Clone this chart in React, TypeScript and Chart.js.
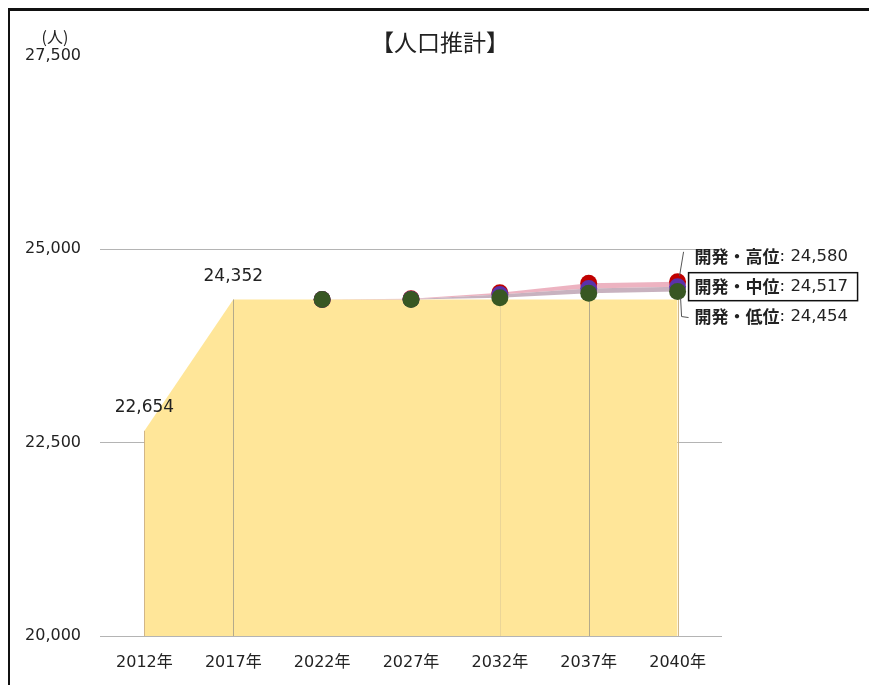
import React, { useEffect, useRef } from "react";
import { Chart, registerables } from "chart.js";

Chart.register(...registerables);

const categories = ["2012年", "2017年", "2022年", "2027年", "2032年", "2037年", "2040年"];
const baseValues = [22654, 24352, 24352, 24352, 24352, 24352, 24352];
const highValues = [null, null, 24352, 24360, 24440, 24560, 24580];
const midValues = [null, null, 24352, 24355, 24415, 24495, 24517];
const lowValues = [null, null, 24352, 24350, 24375, 24432, 24454];
const valueLabelIndices = [0, 1];
const dropLineIndices = [0, 1, 4, 5, 6];
const seriesNames = ["開発・高位", "開発・中位", "開発・低位"];
const yTicks = [20000, 22500, 25000, 27500];
const titleText = "【人口推計】";
const unitText = "(人)";

const FONT = '"DejaVu Sans", "Noto Sans CJK JP", sans-serif';
const CJK = '"Noto Sans CJK JP", sans-serif';
const fmt = (v: number) => v.toLocaleString("en-US");

const overlayPlugin = {
  id: "overlay",
  afterDatasetDraw(chart: any, args: any) {
    if (args.index !== 0) return;
    const ctx = chart.ctx;
    const x = chart.scales.x;
    const y = chart.scales.y;
    ctx.save();
    dropLineIndices.forEach((i) => {
      const px = x.getPixelForValue(i);
      const v = lowValues[i] ?? baseValues[i];
      const top = y.getPixelForValue(v as number);
      const edge = i === 0 || i === categories.length - 1;
      ctx.strokeStyle = edge ? "rgba(205,175,125,0.9)" : i === 4 ? "rgba(215,195,150,0.5)" : "rgba(130,130,130,0.6)";
      ctx.lineWidth = 1;
      ctx.beginPath();
      ctx.moveTo(Math.round(px) + 0.5, top);
      ctx.lineTo(Math.round(px) + 0.5, y.getPixelForValue(yTicks[0]));
      ctx.stroke();
    });
    ctx.restore();
  },
  afterDraw(chart: any) {
    const ctx = chart.ctx;
    const x = chart.scales.x;
    const y = chart.scales.y;
    ctx.save();
    ctx.fillStyle = "#222";
    ctx.textAlign = "center";
    ctx.textBaseline = "middle";
    ctx.font = `23px ${CJK}`;
    ctx.fillText(titleText, 440, 42);
    ctx.font = `16px ${CJK}`;
    ctx.fillText(unitText, 55, 37);
    ctx.font = `17px ${FONT}`;
    valueLabelIndices.forEach((i) => {
      const px = x.getPixelForValue(i);
      const py = y.getPixelForValue(baseValues[i]);
      ctx.fillText(fmt(baseValues[i]), px, py - 23);
    });
    const last = categories.length - 1;
    const lx = x.getPixelForValue(last);
    const yh = y.getPixelForValue(highValues[last] as number);
    const ym = y.getPixelForValue(midValues[last] as number);
    const yl = y.getPixelForValue(lowValues[last] as number);
    const tx = lx + 17;
    ctx.strokeStyle = "#555";
    ctx.lineWidth = 1;
    ctx.beginPath();
    ctx.moveTo(lx + 2, yh - 6);
    ctx.lineTo(lx + 6, yh - 30);
    ctx.stroke();
    ctx.beginPath();
    ctx.moveTo(lx + 3, yl + 6);
    ctx.lineTo(lx + 4, yl + 25);
    ctx.lineTo(lx + 11, yl + 26);
    ctx.stroke();
    ctx.strokeStyle = "#111";
    ctx.lineWidth = 1.5;
    ctx.strokeRect(lx + 11, ym - 14, 169, 28);
    ctx.fillStyle = "#222";
    ctx.textAlign = "left";
    const rows: [string, number, number][] = [
      [seriesNames[0], highValues[last] as number, yh - 25],
      [seriesNames[1], midValues[last] as number, ym],
      [seriesNames[2], lowValues[last] as number, yl + 25],
    ];
    rows.forEach(([name, v, py]) => {
      ctx.font = `bold 17px ${CJK}`;
      ctx.fillText(name, tx, py);
      const w = ctx.measureText(name).width;
      ctx.font = `16.5px ${FONT}`;
      ctx.fillText(": " + fmt(v), tx + w, py);
    });
    ctx.restore();
  },
};

export default function App() {
  const ref = useRef<HTMLCanvasElement | null>(null);
  useEffect(() => {
    if (!ref.current) return;
    const chart = new Chart(ref.current, {
      type: "line",
      data: {
        labels: categories,
        datasets: [
          {
            label: "実績",
            data: baseValues,
            fill: "start",
            backgroundColor: "rgb(255,230,153)",
            borderWidth: 0,
            pointRadius: 0,
            tension: 0,
            order: 10,
          },
          {
            label: seriesNames[0],
            data: highValues,
            fill: "+1",
            backgroundColor: "rgba(232,160,178,0.8)",
            borderWidth: 0,
            pointRadius: 8.5,
            pointBackgroundColor: "rgb(192,0,0)",
            pointBorderWidth: 0,
            order: 3,
          },
          {
            label: seriesNames[1],
            data: midValues,
            fill: "+1",
            backgroundColor: "rgba(190,165,180,0.85)",
            borderWidth: 0,
            pointRadius: 8.5,
            pointBackgroundColor: "rgb(90,50,170)",
            pointBorderWidth: 0,
            order: 2,
          },
          {
            label: seriesNames[2],
            data: lowValues,
            fill: false,
            borderWidth: 0,
            pointRadius: 8.5,
            pointBackgroundColor: "rgb(56,87,35)",
            pointBorderWidth: 0,
            order: 1,
          },
        ],
      },
      options: {
        animation: false,
        responsive: false,
        layout: { padding: { top: 56, right: 147, left: 0, bottom: 0 } },
        plugins: { legend: { display: false }, tooltip: { enabled: false }, title: { display: false } },
        scales: {
          x: {
            offset: true,
            grid: { display: false, drawTicks: false },
            border: { display: false },
            ticks: { color: "#222", font: { family: FONT, size: 16 }, padding: 17, maxRotation: 0 },
            afterFit: (s: any) => { s.height = 49; },
          },
          y: {
            min: yTicks[0],
            max: yTicks[yTicks.length - 1],
            afterBuildTicks: (s: any) => { s.ticks = yTicks.map((v) => ({ value: v })); },
            grid: {
              drawTicks: false,
              color: (c: any) => (c.tick && c.tick.value === yTicks[yTicks.length - 1] ? "rgba(0,0,0,0)" : "#b4b4b4"),
            },
            border: { display: false },
            ticks: { color: "#222", font: { family: FONT, size: 16 }, padding: 19, callback: (v: any) => fmt(Number(v)) },
            afterFit: (s: any) => { s.width = 100; },
          },
        },
      },
      plugins: [overlayPlugin],
    });
    return () => chart.destroy();
  }, []);
  return (
    <div style={{ position: "absolute", left: 0, top: 0, width: 869, height: 685, background: "#fff" }}>
      <div style={{ position: "absolute", left: 8, top: 8, right: 0, bottom: 0, borderTop: "3px solid #111", borderLeft: "2px solid #111" }} />
      <canvas ref={ref} width={869} height={685} style={{ position: "absolute", left: 0, top: 0 }} />
    </div>
  );
}
